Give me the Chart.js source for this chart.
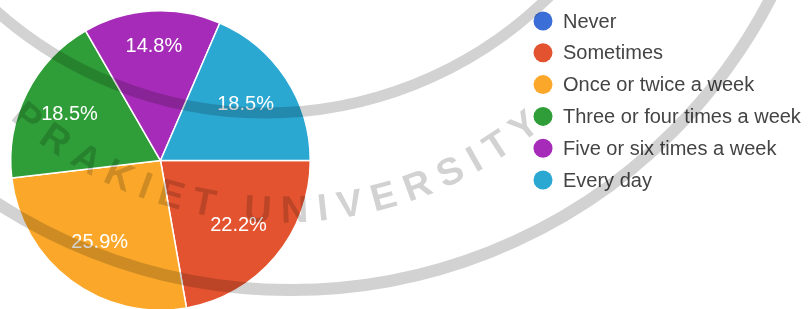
<!DOCTYPE html>
<html>
<head>
<meta charset="utf-8">
<script src="https://cdn.jsdelivr.net/npm/chart.js@4.4.1/dist/chart.umd.min.js"></script>
<style>
  html, body { margin: 0; padding: 0; background: #fff; overflow: hidden; }
  #wrap { position: relative; width: 811px; height: 313px; }
</style>
</head>
<body>
<div id="wrap"><canvas id="myChart"></canvas></div>
<script>
var answers  = ['Never', 'Sometimes', 'Once or twice a week', 'Three or four times a week', 'Five or six times a week', 'Every day'];
var percents = [0, 22.2, 25.9, 18.5, 14.8, 18.5];
var colours  = ['#3b6ed6', '#e4532f', '#fba82a', '#2f9e38', '#a62bb8', '#2aa8d2'];
var stampText = 'PRAKIET UNIVERSITY';

var FONT = '"Liberation Sans", Arial, sans-serif';

// ── Percent labels inside the slices ─────────────────────────────────────────
var sliceLabels = {
  id: 'sliceLabels',
  afterDatasetsDraw: function (chart) {
    var ctx  = chart.ctx;
    var arcs = chart.getDatasetMeta(0).data;
    ctx.save();
    ctx.font = '20px ' + FONT;
    ctx.fillStyle = '#fff';
    ctx.textAlign = 'center';
    ctx.textBaseline = 'middle';
    for (var i = 0; i < arcs.length; i++) {
      if (!percents[i]) continue;
      var a   = arcs[i];
      var mid = (a.startAngle + a.endAngle) / 2;
      var k   = percents[i] < 16 ? 0.76 : 0.68;
      ctx.fillText(percents[i].toFixed(1) + '%',
        a.x + Math.cos(mid) * a.outerRadius * k,
        a.y + Math.sin(mid) * a.outerRadius * k);
    }
    ctx.restore();
  }
};

// ── Legend on the right ──────────────────────────────────────────────────────
var sideLegend = {
  id: 'sideLegend',
  afterDraw: function (chart) {
    var ctx = chart.ctx;
    ctx.save();
    ctx.font = '20px ' + FONT;
    ctx.textAlign = 'left';
    ctx.textBaseline = 'middle';
    for (var i = 0; i < answers.length; i++) {
      var y = 21 + i * 31.8;
      ctx.beginPath();
      ctx.arc(543, y, 9.5, 0, Math.PI * 2);
      ctx.fillStyle = colours[i];
      ctx.fill();
      ctx.fillStyle = '#444';
      ctx.fillText(answers[i], 563, y + 1);
    }
    ctx.restore();
  }
};

// ── Faint university stamp over everything ───────────────────────────────────
function arcText(ctx, text, cx, cy, r, fromDeg, toDeg) {
  var widths = [], total = 0;
  for (var i = 0; i < text.length; i++) {
    var w = ctx.measureText(text[i]).width;
    widths.push(w); total += w;
  }
  var span = r * (fromDeg - toDeg) * Math.PI / 180;
  var gap  = (span - total) / (text.length - 1);
  var pos  = 0;
  for (var j = 0; j < text.length; j++) {
    var th = fromDeg * Math.PI / 180 - (pos + widths[j] / 2) / r;
    ctx.save();
    ctx.translate(cx + Math.cos(th) * r, cy + Math.sin(th) * r);
    ctx.rotate(th - Math.PI / 2);
    ctx.fillText(text[j], 0, 0);
    ctx.restore();
    pos += widths[j] + gap;
  }
}

var stamp = {
  id: 'stamp',
  afterDraw: function (chart) {
    var ctx = chart.ctx;
    ctx.save();
    ctx.globalCompositeOperation = 'multiply';
    ctx.strokeStyle = '#d2d2d2';
    ctx.fillStyle   = '#d2d2d2';
    ctx.lineWidth = 11;
    ctx.beginPath();
    ctx.arc(265, -292, 405, 0, Math.PI);
    ctx.stroke();
    ctx.lineWidth = 12;
    ctx.beginPath();
    ctx.arc(291, -250, 540, 0, Math.PI);
    ctx.stroke();
    ctx.font = 'bold 38px ' + FONT;
    ctx.textAlign = 'center';
    ctx.textBaseline = 'middle';
    arcText(ctx, stampText, 281, -183, 395, 132, 50);
    ctx.restore();
  }
};

var ctx = document.getElementById('myChart').getContext('2d');
var myChart = new Chart(ctx, {
  type: 'pie',
  data: {
    labels: answers,
    datasets: [{
      data: percents,
      backgroundColor: colours,
      borderColor: '#fff',
      borderWidth: 1.5
    }]
  },
  options: {
    responsive: true,
    maintainAspectRatio: false,
    animation: false,
    rotation: 90,
    layout: { padding: { left: 10, right: 500, top: 10, bottom: 2 } },
    plugins: {
      legend: { display: false },
      tooltip: { enabled: false }
    }
  },
  plugins: [sliceLabels, sideLegend, stamp]
});
</script>
</body>
</html>
